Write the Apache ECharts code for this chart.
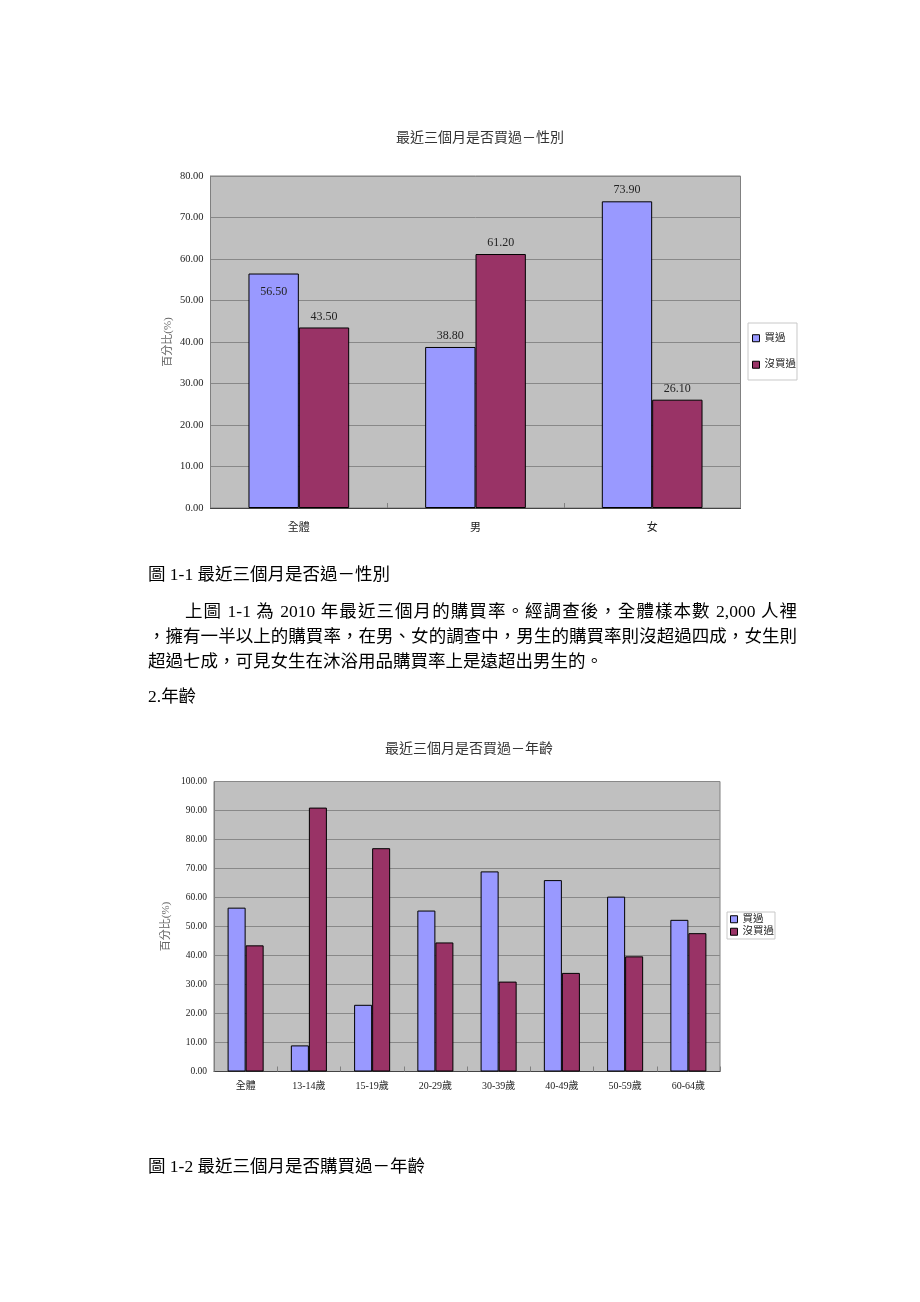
<!DOCTYPE html>
<html>
<head>
<meta charset="utf-8">
<script src="https://cdn.jsdelivr.net/npm/echarts@6/dist/echarts.min.js"></script>
<style>
  html, body { margin:0; padding:0; background:#fff; }
  #page { position:relative; width:920px; height:1302px; overflow:hidden; }
  #chart { position:absolute; left:0; top:0; width:920px; height:1302px; }
  .t { position:absolute; font-family:'Liberation Serif','Noto Sans CJK TC',serif; font-size:17.5px; line-height:25px; color:#000; white-space:nowrap; }
  .j { text-align:justify; text-align-last:justify; white-space:normal; }
</style>
</head>
<body>
<div id="page">
  <div id="chart"></div>
  <div class="t" style="left:148px;top:562px;">圖 1-1 最近三個月是否過－性別</div>
  <div class="t j" style="left:185px;top:599px;width:612px;">上圖 1-1 為 2010 年最近三個月的購買率。經調查後，全體樣本數 2,000 人裡</div>
  <div class="t j" style="left:148px;top:624px;width:649px;">，擁有一半以上的購買率，在男、女的調查中，男生的購買率則沒超過四成，女生則</div>
  <div class="t" style="left:148px;top:649px;">超過七成，可見女生在沐浴用品購買率上是遠超出男生的。</div>
  <div class="t" style="left:148px;top:684px;">2.年齡</div>
  <div class="t" style="left:148px;top:1154px;">圖 1-2 最近三個月是否購買過－年齡</div>
</div>
<script>
const seriesNames = ['買過', '沒買過'];
const genderCats = ['全體', '男', '女'];
const genderBuy = [56.5, 38.8, 73.9];
const genderNot = [43.5, 61.2, 26.1];
const ageCats = ['全體', '13-14歲', '15-19歲', '20-29歲', '30-39歲', '40-49歲', '50-59歲', '60-64歲'];
const ageBuy = [56.5, 9.0, 23.0, 55.5, 69.0, 66.0, 60.3, 52.3];
const ageNot = [43.5, 91.0, 77.0, 44.5, 31.0, 34.0, 39.7, 47.7];
const titles = ['最近三個月是否買過－性別', '最近三個月是否買過－年齡'];
const yName = '百分比(%)';

const FF = "'Liberation Serif','Noto Sans CJK TC',serif";
const BLUE = '#9999FF', RED = '#993366';

const chart = echarts.init(document.getElementById('chart'), null, {renderer:'canvas'});

function yAxis(gi, max, fs, gap) {
  return {
    gridIndex: gi, type: 'value', min: 0, max: max, interval: 10,
    name: yName, nameLocation: 'middle', nameGap: gap, nameRotate: 90, nameMoveOverlap: false,
    nameTextStyle: { fontFamily: FF, fontSize: 11, color: '#666' },
    axisLine: { show: true, lineStyle: { color: '#808080' } },
    axisTick: { show: false },
    splitLine: { lineStyle: { color: '#888', width: 1 } },
    axisLabel: { fontFamily: FF, fontSize: fs, color: '#222', margin: 7,
      formatter: v => v.toFixed(2) }
  };
}
function xAxis(gi, cats, fs, margin) {
  return {
    gridIndex: gi, type: 'category', data: cats,
    axisLine: { lineStyle: { color: '#444' } },
    axisTick: { show: true, inside: true, length: 5, lineStyle: { color: '#808080' } },
    axisLabel: { fontFamily: FF, fontSize: fs, color: '#222', margin: margin, interval: 0 },
    splitLine: { show: false }
  };
}
const labelTop = { show: true, position: 'top', distance: 5, fontFamily: FF, fontSize: 12, color: '#222',
  formatter: p => p.value.toFixed(2) };

const option = {
  animation: false,
  title: [
    { text: titles[0], left: 475, top: 126, textAlign: 'center',
      textStyle: { fontFamily: FF, fontSize: 14, fontWeight: 'normal', color: '#333' } },
    { text: titles[1], left: 464, top: 737, textAlign: 'center',
      textStyle: { fontFamily: FF, fontSize: 14, fontWeight: 'normal', color: '#333' } }
  ],
  legend: [
    { data: seriesNames, orient: 'vertical', left: 748, top: 323, icon: 'rect',
      itemWidth: 7, itemHeight: 7, itemGap: 16, padding: [10, 1, 10, 4],
      backgroundColor: '#fff', borderColor: '#c8c8c8', borderWidth: 1,
      itemStyle: { borderColor: '#000', borderWidth: 1 },
      textStyle: { fontFamily: FF, fontSize: 10.5, color: '#222' } },
    { data: [ {name: seriesNames[0]}, {name: seriesNames[1]} ], orient: 'vertical', left: 727, top: 912, icon: 'rect',
      itemWidth: 7, itemHeight: 7, itemGap: 2, padding: [2, 1, 2, 3],
      backgroundColor: '#fff', borderColor: '#c8c8c8', borderWidth: 1,
      itemStyle: { borderColor: '#000', borderWidth: 1 },
      textStyle: { fontFamily: FF, fontSize: 10.5, color: '#222' } }
  ],
  grid: [
    { left: 210.5, top: 176, width: 530, height: 332, show: true,
      backgroundColor: '#C0C0C0', borderColor: '#808080', borderWidth: 1 },
    { left: 214, top: 781.5, width: 506, height: 290, show: true,
      backgroundColor: '#C0C0C0', borderColor: '#808080', borderWidth: 1 }
  ],
  xAxis: [ xAxis(0, genderCats, 11, 15), xAxis(1, ageCats, 10, 10) ],
  yAxis: [ yAxis(0, 80, 10.5, 37), yAxis(1, 100, 9.5, 42) ],
  series: [
    { name: seriesNames[0], type: 'bar', xAxisIndex: 0, yAxisIndex: 0,
      barGap: '0%', barCategoryGap: '43%',
      itemStyle: { color: BLUE, borderColor: '#000', borderWidth: 1 },
      label: labelTop,
      data: genderBuy.map((v, i) => i === 0 ? { value: v, label: { position: 'insideTop', distance: 12 } } : v) },
    { name: seriesNames[1], type: 'bar', xAxisIndex: 0, yAxisIndex: 0,
      barGap: '0%', barCategoryGap: '43%',
      itemStyle: { color: RED, borderColor: '#000', borderWidth: 1 },
      label: labelTop, data: genderNot },
    { name: seriesNames[0], type: 'bar', xAxisIndex: 1, yAxisIndex: 1,
      barGap: '0%', barCategoryGap: '43%',
      itemStyle: { color: BLUE, borderColor: '#000', borderWidth: 1 }, data: ageBuy },
    { name: seriesNames[1], type: 'bar', xAxisIndex: 1, yAxisIndex: 1,
      barGap: '0%', barCategoryGap: '43%',
      itemStyle: { color: RED, borderColor: '#000', borderWidth: 1 }, data: ageNot }
  ]
};
chart.setOption(option);
</script>
</body>
</html>
